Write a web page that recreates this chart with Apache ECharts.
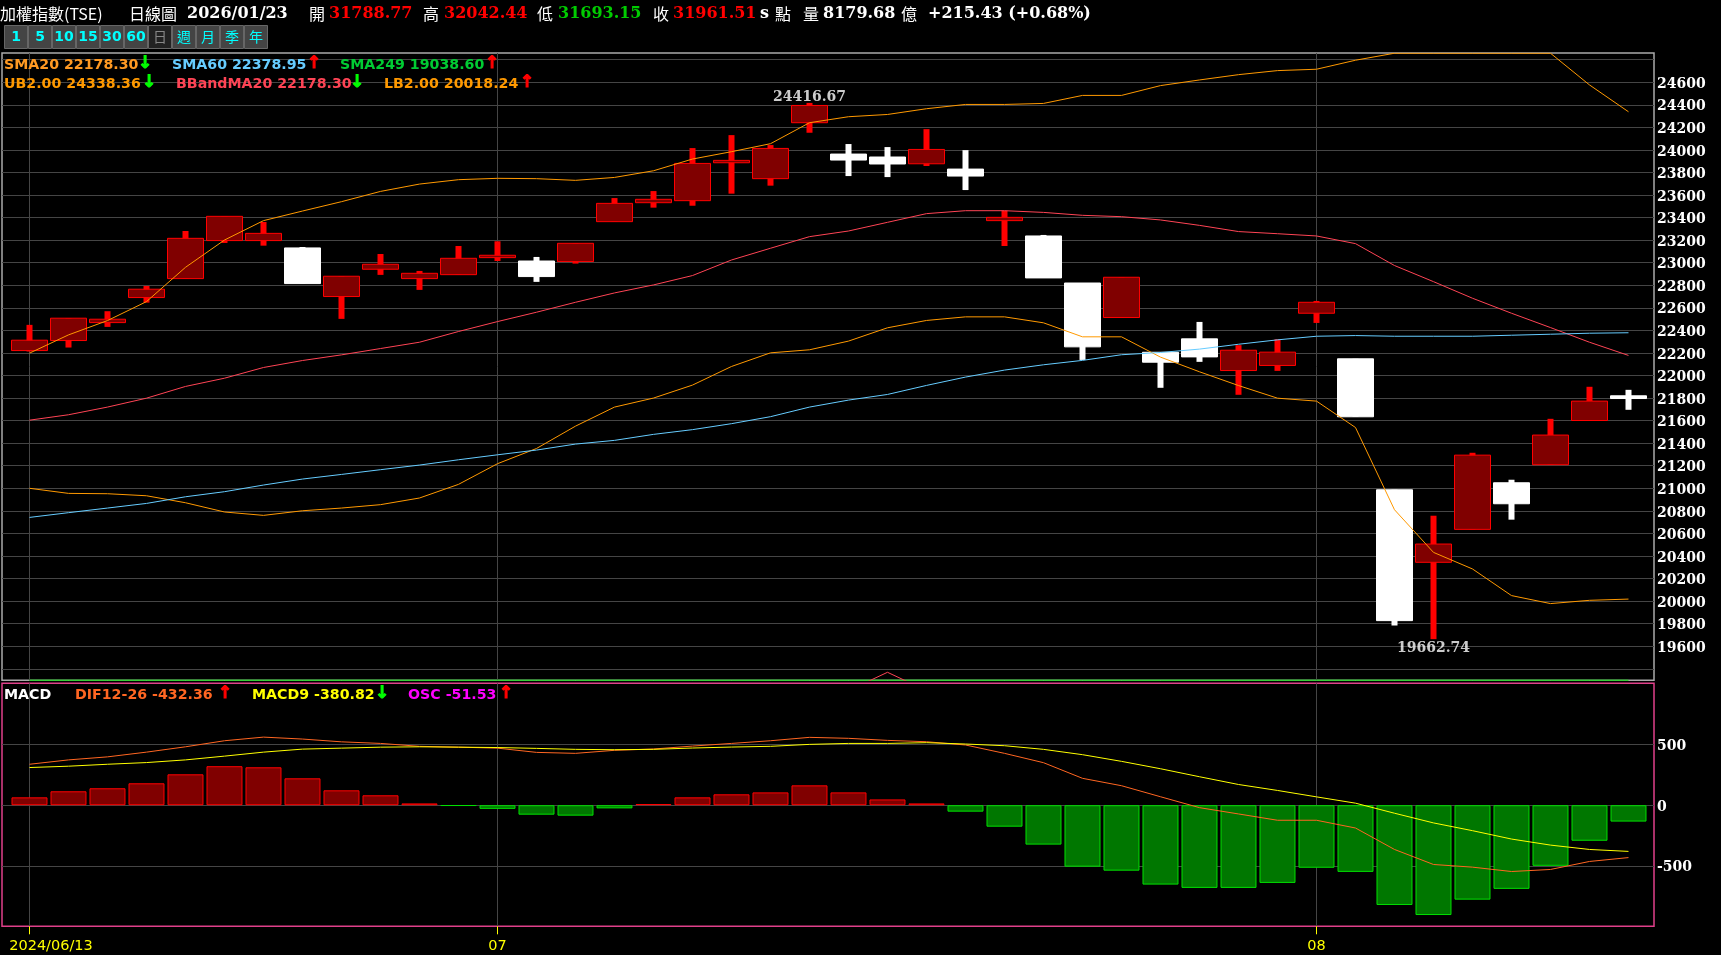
<!DOCTYPE html>
<html><head><meta charset="utf-8">
<style>html,body{margin:0;padding:0;background:#000}#c{width:1721px;height:955px}</style>
<script src="https://cdn.jsdelivr.net/npm/echarts@6/dist/echarts.min.js"></script>
</head><body><div id="c"></div>
<script>
// [open, close, low, high]
const candles = [
[22221,22313,22213,22449],[22310,22508,22248,22508],[22469,22499,22431,22570],[22691,22765,22646,22794],
[22859,23216,22859,23281],[23196,23411,23175,23411],[23196,23260,23151,23361],[23131,22815,22815,23139],
[22700,22880,22502,22880],[22942,22986,22892,23077],[22859,22906,22759,22927],[22894,23039,22894,23148],
[23045,23066,23015,23190],[23015,22877,22830,23051],[23010,23172,22992,23172],[23364,23526,23364,23573],
[23532,23562,23488,23635],[23550,23880,23505,24016],[23886,23907,23612,24131],[23745,24013,23683,24043],
[24241,24394,24152,24416.67],[23963,23910,23768,24052],[23937,23875,23759,24025],[23877,24004,23857,24184],
[23830,23768,23644,23998],[23373,23402,23148,23461],[23237,22865,22865,23246],[22820,22254,22138,22820],
[22514,22871,22514,22871],[22206,22118,21891,22206],[22325,22165,22121,22475],[22044,22224,21829,22269],
[22089,22207,22041,22322],[22552,22649,22466,22661],[22148,21634,21634,22148],[20987,19827,19783,20987],
[20344,20506,19662.74,20757],[20636,21294,20636,21315],[21049,20863,20722,21076],[21209,21472,21209,21616],
[21601,21773,21601,21900],[21820,21796,21696,21873]];
const ub = [22198,22360,22487,22655,22959,23201,23373,23458,23541,23632,23697,23736,23748,23745,23730,23756,23815,23919,23984,24055,24241,24294,24314,24365,24403,24403,24412,24483,24483,24570,24620,24667,24703,24715,24795,24857,24857,24857,24857,24857,24576,24338];
const lb = [21000,20955,20952,20934,20872,20790,20760,20801,20825,20855,20914,21035,21218,21353,21551,21720,21800,21915,22080,22201,22228,22305,22423,22488,22520,22520,22467,22343,22343,22163,22033,21911,21799,21773,21539,20810,20432,20285,20049,19978,20007,20018];
const sma20 = [21604,21652,21720,21799,21903,21976,22071,22133,22183,22239,22295,22390,22478,22561,22649,22732,22803,22886,23024,23128,23231,23281,23358,23435,23461,23461,23446,23420,23408,23379,23331,23276,23257,23237,23169,22975,22832,22685,22552,22425,22295,22178];
const sma60 = [20742,20784,20825,20866,20925,20970,21029,21082,21123,21165,21206,21253,21297,21339,21392,21425,21478,21520,21573,21635,21720,21782,21832,21912,21986,22048,22095,22134,22184,22204,22234,22277,22316,22348,22354,22348,22348,22348,22357,22366,22375,22379];
const sma249 = [19299,19299,19299,19299,19299,19299,19299,19299,19299,19299,19299,19299,19299,19299,19299,19299,19299,19299,19299,19299,19299,19299,19299,19299,19299,19299,19299,19299,19299,19299,19299,19299,19299,19299,19299,19299,19299,19299,19299,19299,19299,19299];
const humpPoints = [[21,19207],[22,19369],[23,19207]];
const osc = [65,115,140,181,255,322,313,222,123,82,15,-5,-30,-78,-86,-26,10,65,90,106,164,106,48,15,-53,-177,-325,-507,-540,-655,-682,-682,-641,-516,-550,-823,-906,-779,-690,-500,-293,-135];
const dif = [338,374,399,438,482,532,562,546,523,510,486,479,471,436,428,453,464,488,510,532,560,552,535,524,497,428,351,222,161,70,-20,-72,-124,-124,-188,-365,-489,-511,-547,-530,-464,-432];
const dea = [311,322,338,352,374,405,438,463,471,479,482,479,476,469,461,458,461,472,480,486,502,510,510,516,505,491,461,417,362,301,235,171,122,69,17,-66,-146,-210,-279,-329,-365,-381];
const priceTicks = [19400,19600,19800,20000,20200,20400,20600,20800,21000,21200,21400,21600,21800,22000,22200,22400,22600,22800,23000,23200,23400,23600,23800,24000,24200,24400,24600,24800];
const priceLabels = [19600,19800,20000,20200,20400,20600,20800,21000,21200,21400,21600,21800,22000,22200,22400,22600,22800,23000,23200,23400,23600,23800,24000,24200,24400,24600];
const macdTicks = [-500,0,500];
const dateTickIdx = [0,12,33];
const dateTickText = ['2024/06/13','07','08'];
const peakLabels = [[20,24416.67,'top',2],[36,19662.74,'bottom',1]];

const serif = '"DejaVu Serif"', sans = '"DejaVu Sans"', cjk = '"Noto Sans CJK TC"';
const W='#ffffff',R='#ff0000',G='#00cc00',UP='#ff0000',DN='#00ff00';
const HY=14;
// [text, x, y, color, font]
const headerTexts = [
['加權指數(TSE)',0,HY,W,'16px '+cjk],['日線圖',129,HY,W,'16px '+cjk],['2026/01/23',187,HY,W,'bold 16px '+serif],
['開',309,HY,W,'16px '+cjk],['31788.77',329,HY,R,'bold 16px '+serif],['高',423,HY,W,'16px '+cjk],['32042.44',444,HY,R,'bold 16px '+serif],
['低',537,HY,W,'16px '+cjk],['31693.15',558,HY,G,'bold 16px '+serif],['收',653,HY,W,'16px '+cjk],['31961.51',673,HY,R,'bold 16px '+serif],
['s',760,HY,W,'bold 16px '+serif],['點',775,HY,W,'16px '+cjk],['量',803,HY,W,'16px '+cjk],['8179.68',823,HY,W,'bold 16px '+serif],
['億',901,HY,W,'16px '+cjk],['+215.43 (+0.68%)',928,HY,W,'bold 16px '+serif]
];
const L='bold 14.2px '+sans, A='bold 17px '+sans;
const legendTexts = [
['SMA20 22178.30',4,65,'#ff9922',L],['↓',138,64,DN,A],['SMA60 22378.95',172,65,'#66ccff',L],['↑',307,64,UP,A],['SMA249 19038.60',340,65,'#00cc33',L],['↑',485,64,UP,A],
['UB2.00 24338.36',4,84,'#ff9900',L],['↓',142,83,DN,A],['BBandMA20 22178.30',176,84,'#ff4455',L],['↓',350,83,DN,A],['LB2.00 20018.24',384,84,'#ff9900',L],['↑',520,83,UP,A],
['MACD',4,695,W,L],['DIF12-26 -432.36',75,695,'#ff6622',L],['↑',218,694,UP,A],['MACD9 -380.82',252,695,'#ffff00',L],['↓',375,694,DN,A],['OSC -51.53',408,695,'#ff00ff',L],['↑',499,694,UP,A]
];
const buttonLabels = ['1','5','10','15','30','60','日','週','月','季','年'];

const gfx = [];
buttonLabels.forEach((t,i)=>{
  const cur = t==='日';
  gfx.push({type:'rect',silent:true,shape:{x:4.5+i*24,y:25.5,width:23,height:23},style:{fill:cur?'#222':'#444',stroke:'#666',lineWidth:1}});
  gfx.push({type:'text',silent:true,style:{x:16+i*24,y:37,text:t,fill:cur?'#888':'#00ffff',font:(/\d/.test(t)?'bold 14px '+sans:'14px '+cjk),textAlign:'center',textVerticalAlign:'middle'}});
});
headerTexts.concat(legendTexts).forEach(t=>{
  const arrow = t[0]==='↓'||t[0]==='↑';
  gfx.push({type:'text',silent:true,z:50,style:Object.assign({x:t[1],y:t[2],text:t[0],fill:t[3],font:t[4],textVerticalAlign:'middle'},arrow?{stroke:t[3],lineWidth:1}:{})});
});

const idx = a=>a.map((v,i)=>[i,v]);
const axLabel = {color:'#fff',fontFamily:'DejaVu Serif',fontWeight:'bold',fontSize:14,margin:3,align:'left',formatter:v=>'{v|'+v+'}',
  rich:{v:{color:'#fff',fontFamily:'DejaVu Serif',fontWeight:'bold',fontSize:14,padding:[4,0,0,0],align:'left'}}};
const gridLine = {show:true,lineStyle:{color:'#454545',width:1}};
const xBase = {type:'value',min:-0.705,max:41.654,axisLine:{show:false,onZero:false},splitLine:gridLine};
const yBase = {type:'value',position:'right',axisLine:{show:false,onZero:false},scale:false,splitLine:gridLine};
const line = (name,data,color,extra)=>Object.assign({name,type:'line',xAxisIndex:0,yAxisIndex:0,data:idx(data),symbol:'none',silent:true,lineStyle:{color,width:1}},extra||{});

const option = {
  backgroundColor:'#000',animation:false,
  grid:[
    {left:2,top:53,width:1652,height:627.3,show:true,borderColor:'#aaaaaa',borderWidth:1.5,backgroundColor:'transparent'},
    {left:2,top:683.3,width:1652,height:243,show:true,borderColor:'#e0408a',borderWidth:1.5,backgroundColor:'transparent'}
  ],
  xAxis:[
    Object.assign({},xBase,{gridIndex:0,axisTick:{show:false,customValues:dateTickIdx},axisLabel:{show:false,customValues:dateTickIdx}}),
    Object.assign({},xBase,{gridIndex:1,position:'bottom',
      axisTick:{show:true,length:8,lineStyle:{color:'#ffff00'},customValues:dateTickIdx},
      axisLabel:{show:true,customValues:dateTickIdx,color:'#ffff00',fontFamily:'DejaVu Sans',fontSize:14.5,margin:12,
        formatter:v=>{const k=dateTickIdx.indexOf(v);const s=k<0?'':dateTickText[k];return k===0?'{first|'+s+'}':s;},
        rich:{first:{color:'#ffff00',fontFamily:'DejaVu Sans',fontSize:14.5,padding:[0,0,0,43]}}}})
  ],
  yAxis:[
    Object.assign({},yBase,{gridIndex:0,min:19298,max:24859,axisTick:{show:false,customValues:priceTicks},axisLabel:Object.assign({},axLabel,{customValues:priceLabels})}),
    Object.assign({},yBase,{gridIndex:1,min:-999,max:1006,axisTick:{show:false,customValues:macdTicks},axisLabel:Object.assign({},axLabel,{customValues:macdTicks})})
  ],
  graphic:{elements:gfx},
  series:[
    {name:'wick',type:'candlestick',xAxisIndex:0,yAxisIndex:0,barWidth:6,silent:true,
     data:candles.map((c,i)=>{const col=c[1]>=c[0]?'#ff0000':'#ffffff';return {value:[i,c[2],c[3],c[2],c[3]],itemStyle:{color:col,color0:col,borderColor:col,borderColor0:col,borderWidth:0}};})},
    {name:'body',type:'candlestick',xAxisIndex:0,yAxisIndex:0,barWidth:36,silent:true,
     itemStyle:{color:'#800000',color0:'#ffffff',borderColor:'#ff0000',borderColor0:'#ffffff',borderWidth:1},
     data:candles.map((c,i)=>[i,c[0],c[1],Math.min(c[0],c[1]),Math.max(c[0],c[1])])},
    line('UB2.00',ub,'#ff9900'),
    line('LB2.00',lb,'#ff9900'),
    line('SMA20',sma20,'#ff4455'),
    line('SMA60',sma60,'#66ccff'),
    line('SMA249',sma249,'#00dd00',{clip:false}),
    {name:'hump',type:'line',xAxisIndex:0,yAxisIndex:0,data:humpPoints,symbol:'none',silent:true,lineStyle:{color:'#ff4455',width:1}},
    {name:'peaks',type:'scatter',xAxisIndex:0,yAxisIndex:0,symbolSize:0,silent:true,
     data:peakLabels.map(p=>({value:[p[0],p[1]],label:{show:true,position:p[2],distance:1,offset:[0,p[3]],formatter:p[1].toFixed(2),color:'#fff',fontFamily:'DejaVu Serif',fontWeight:'bold',fontSize:14}}))},
    {name:'OSC',type:'bar',xAxisIndex:1,yAxisIndex:1,barWidth:36,silent:true,
     data:osc.map((v,i)=>({value:[i,v],itemStyle:v>=0?{color:'#800000',borderColor:'#ff0000',borderWidth:1}:{color:'#007700',borderColor:'#00e000',borderWidth:1}}))},
    {name:'DIF',type:'line',xAxisIndex:1,yAxisIndex:1,data:idx(dif),symbol:'none',silent:true,lineStyle:{color:'#ff6622',width:1}},
    {name:'MACD9',type:'line',xAxisIndex:1,yAxisIndex:1,data:idx(dea),symbol:'none',silent:true,lineStyle:{color:'#ffff00',width:1}}
  ]
};
const chart = echarts.init(document.getElementById('c'),null,{renderer:'canvas',width:1721,height:955});
chart.setOption(option);
</script></body></html>
